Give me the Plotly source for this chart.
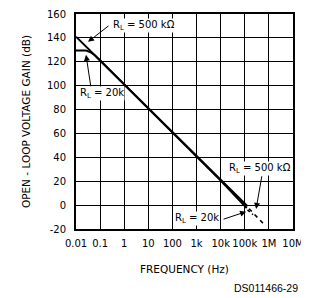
import plotly.graph_objects as go

# ---- data ----
freq_500k = [0.01, 1.3e5]
gain_500k = [141, -1]
freq_500k_dash = [1.5e5, 3.0e5, 7.0e5]
gain_500k_dash = [-3, -9, -17]

freq_20k = [0.01, 0.025, 0.04, 0.06, 0.1, 1e4, 1.2e5]
gain_20k = [129.5, 129.5, 128, 125.5, 121, 20.5, -2.5]
freq_20k_dash = [1.3e5, 2.2e5]
gain_20k_dash = [-4, -8]

x_tickvals = [0.01, 0.1, 1, 10, 100, 1e3, 1e4, 1e5, 1e6, 1e7]
x_ticktext = ["0.01", "0.1", "1", "10", "100", "1k", "10k", "100k", "1M", "10M"]
y_tickvals = [-20, 0, 20, 40, 60, 80, 100, 120, 140, 160]
y_ticktext = ["-20", "0", "20", "40", "60", "80", "100", "120", "140", "160"]

FONT = "DejaVu Sans, Liberation Sans, sans-serif"

# the page body has an 8px margin, so the figure is offset by 8px
OFF = 8
W, H = 309 - OFF, 298 - OFF
L, R, T, B = 76 - OFF, 16, 14 - OFF, 69

fig = go.Figure()
fig.add_trace(go.Scatter(x=freq_500k, y=gain_500k, mode="lines",
                         line=dict(color="black", width=2), showlegend=False))
fig.add_trace(go.Scatter(x=freq_20k, y=gain_20k, mode="lines",
                         line=dict(color="black", width=2), showlegend=False))
fig.add_trace(go.Scatter(x=freq_500k_dash, y=gain_500k_dash, mode="lines",
                         line=dict(color="black", width=1.6, dash="4px,4px"), showlegend=False))
fig.add_trace(go.Scatter(x=freq_20k_dash, y=gain_20k_dash, mode="lines",
                         line=dict(color="black", width=1.6, dash="3px,3px"), showlegend=False))

lab_font = dict(family=FONT, size=10, color="black")
labels = [
    (-0.506, 150.1, "R<sub>L</sub> = 500 kΩ"),
    (-1.876, 93.2, "R<sub>L</sub> = 20k"),
    (4.307, 30.5, "R<sub>L</sub> = 500 kΩ"),
    (2.066, -11.4, "R<sub>L</sub> = 20k"),
]
for x, y, t in labels:
    fig.add_annotation(x=x, y=y, text=t, showarrow=False, xanchor="left", yanchor="middle",
                       bgcolor="white", font=lab_font, borderpad=0)

arrows = [
    (-1.502, 136.7, -0.589, 151.0),
    (-1.585, 125.8, -1.378, 98.2),
    (5.469, -3.2, 5.718, 25.4),
    (5.054, -5.5, 4.058, -12.2),
]
for x, y, ax, ay in arrows:
    fig.add_annotation(x=x, y=y, ax=ax, ay=ay, axref="x", ayref="y", text="",
                       showarrow=True, arrowhead=2, arrowsize=1.2, arrowwidth=1,
                       arrowcolor="black")

# footer, positioned in paper coordinates of the plot area
pw = 309 - 76 - 16
ph = 298 - 14 - 69
fig.add_annotation(x=(300 - 76) / pw, y=(229 - 296) / ph, xref="paper", yref="paper",
                   text="DS011466-29", showarrow=False, xanchor="right", yanchor="bottom",
                   font=dict(family="Liberation Sans, Arial, sans-serif", size=10.5, color="black"))

axis_common = dict(showline=True, linecolor="black", linewidth=2, mirror=True,
                   showgrid=True, gridcolor="black", gridwidth=1.3, zeroline=False,
                   ticks="", tickfont=dict(family=FONT, size=10, color="black"))

fig.update_layout(
    width=W, height=H,
    margin=dict(l=L, r=R, t=T, b=B, autoexpand=False),
    paper_bgcolor="white", plot_bgcolor="white",
    xaxis=dict(type="log", range=[-2, 7], tickvals=x_tickvals, ticktext=x_ticktext,
               tickangle=0, ticklabelstandoff=4,
               title=dict(text="FREQUENCY (Hz)", font=dict(family=FONT, size=10.5, color="black"),
                          standoff=18),
               **axis_common),
    yaxis=dict(range=[-20, 160], tickvals=y_tickvals, ticktext=y_ticktext,
               ticklabelstandoff=6,
               title=dict(text="OPEN - LOOP VOLTAGE GAIN (dB)",
                          font=dict(family=FONT, size=10.5, color="black"), standoff=14),
               **axis_common),
)

fig.write_html("out.html")
